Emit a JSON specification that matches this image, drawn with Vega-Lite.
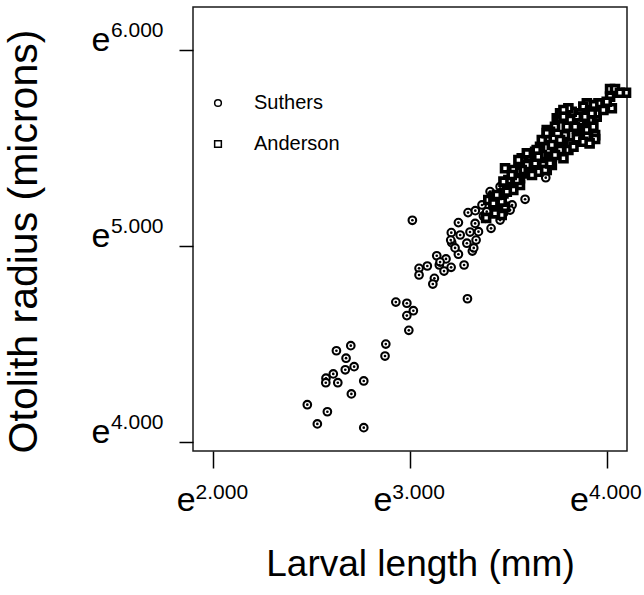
{
"$schema": "https://vega.github.io/schema/vega-lite/v6.json",
"width": 434, "height": 444,
"autosize": {"type": "none"},
"padding": {"left": 193, "top": 7, "right": 17, "bottom": 144},
"background": "white",
"config": {"view": {"stroke": "#1a1a1a", "strokeWidth": 1.5}, "font": "Liberation Sans"},
"datasets": {"otolith": [
{"study":"Suthers","lnLength":2.929,"lnRadius":4.713},{"study":"Suthers","lnLength":2.985,"lnRadius":4.707},{"study":"Suthers","lnLength":3.018,"lnRadius":4.669},{"study":"Suthers","lnLength":2.985,"lnRadius":4.644},{"study":"Suthers","lnLength":2.995,"lnRadius":4.569},{"study":"Suthers","lnLength":2.878,"lnRadius":4.499},{"study":"Suthers","lnLength":2.874,"lnRadius":4.438},{"study":"Suthers","lnLength":2.700,"lnRadius":4.491},{"study":"Suthers","lnLength":2.627,"lnRadius":4.465},{"study":"Suthers","lnLength":2.676,"lnRadius":4.427},{"study":"Suthers","lnLength":2.717,"lnRadius":4.384},{"study":"Suthers","lnLength":2.672,"lnRadius":4.368},{"study":"Suthers","lnLength":2.611,"lnRadius":4.347},{"study":"Suthers","lnLength":2.574,"lnRadius":4.325},{"study":"Suthers","lnLength":2.573,"lnRadius":4.302},{"study":"Suthers","lnLength":2.634,"lnRadius":4.302},{"study":"Suthers","lnLength":2.766,"lnRadius":4.311},{"study":"Suthers","lnLength":2.703,"lnRadius":4.245},{"study":"Suthers","lnLength":2.479,"lnRadius":4.190},{"study":"Suthers","lnLength":2.581,"lnRadius":4.154},{"study":"Suthers","lnLength":2.530,"lnRadius":4.092},{"study":"Suthers","lnLength":2.766,"lnRadius":4.073},{"study":"Suthers","lnLength":3.293,"lnRadius":4.730},{"study":"Suthers","lnLength":3.013,"lnRadius":5.130},{"study":"Suthers","lnLength":3.047,"lnRadius":4.885},{"study":"Suthers","lnLength":3.047,"lnRadius":4.851},{"study":"Suthers","lnLength":3.089,"lnRadius":4.897},{"study":"Suthers","lnLength":3.137,"lnRadius":4.949},{"study":"Suthers","lnLength":3.150,"lnRadius":4.902},{"study":"Suthers","lnLength":3.184,"lnRadius":4.933},{"study":"Suthers","lnLength":3.174,"lnRadius":4.871},{"study":"Suthers","lnLength":3.125,"lnRadius":4.834},{"study":"Suthers","lnLength":3.117,"lnRadius":4.805},{"study":"Suthers","lnLength":3.210,"lnRadius":4.890},{"study":"Suthers","lnLength":3.276,"lnRadius":4.902},{"study":"Suthers","lnLength":3.247,"lnRadius":4.957},{"study":"Suthers","lnLength":3.318,"lnRadius":4.973},{"study":"Suthers","lnLength":3.290,"lnRadius":5.013},{"study":"Suthers","lnLength":3.213,"lnRadius":5.016},{"study":"Suthers","lnLength":3.211,"lnRadius":5.067},{"study":"Suthers","lnLength":3.256,"lnRadius":5.055},{"study":"Suthers","lnLength":3.247,"lnRadius":5.118},{"study":"Suthers","lnLength":3.337,"lnRadius":5.029},{"study":"Suthers","lnLength":3.296,"lnRadius":5.169},{"study":"Suthers","lnLength":3.333,"lnRadius":5.179},{"study":"Suthers","lnLength":3.332,"lnRadius":5.114},{"study":"Suthers","lnLength":3.349,"lnRadius":5.072},{"study":"Suthers","lnLength":3.374,"lnRadius":5.152},{"study":"Suthers","lnLength":3.391,"lnRadius":5.174},{"study":"Suthers","lnLength":3.413,"lnRadius":5.089},{"study":"Suthers","lnLength":3.459,"lnRadius":5.131},{"study":"Suthers","lnLength":3.476,"lnRadius":5.165},{"study":"Suthers","lnLength":3.408,"lnRadius":5.276},{"study":"Suthers","lnLength":3.442,"lnRadius":5.225},{"study":"Suthers","lnLength":3.459,"lnRadius":5.301},{"study":"Suthers","lnLength":3.501,"lnRadius":5.310},{"study":"Suthers","lnLength":3.520,"lnRadius":5.208},{"study":"Suthers","lnLength":3.586,"lnRadius":5.237},{"study":"Suthers","lnLength":3.691,"lnRadius":5.347},{"study":"Suthers","lnLength":3.325,"lnRadius":4.989},{"study":"Suthers","lnLength":3.208,"lnRadius":5.029},{"study":"Suthers","lnLength":3.384,"lnRadius":5.140},{"study":"Suthers","lnLength":3.418,"lnRadius":5.249},{"study":"Suthers","lnLength":3.510,"lnRadius":5.182},{"study":"Suthers","lnLength":3.367,"lnRadius":5.208},{"study":"Suthers","lnLength":3.306,"lnRadius":5.070},{"study":"Suthers","lnLength":3.230,"lnRadius":4.989},{"study":"Suthers","lnLength":3.154,"lnRadius":4.917},
{"study":"Anderson","lnLength":4.018,"lnRadius":5.799},{"study":"Anderson","lnLength":4.043,"lnRadius":5.799},{"study":"Anderson","lnLength":4.099,"lnRadius":5.780},{"study":"Anderson","lnLength":4.068,"lnRadius":5.780},{"study":"Anderson","lnLength":4.018,"lnRadius":5.760},{"study":"Anderson","lnLength":4.027,"lnRadius":5.701},{"study":"Anderson","lnLength":4.001,"lnRadius":5.734},{"study":"Anderson","lnLength":3.959,"lnRadius":5.726},{"study":"Anderson","lnLength":3.933,"lnRadius":5.717},{"study":"Anderson","lnLength":3.900,"lnRadius":5.726},{"study":"Anderson","lnLength":3.882,"lnRadius":5.709},{"study":"Anderson","lnLength":3.916,"lnRadius":5.683},{"study":"Anderson","lnLength":3.950,"lnRadius":5.658},{"study":"Anderson","lnLength":3.865,"lnRadius":5.675},{"study":"Anderson","lnLength":3.849,"lnRadius":5.658},{"study":"Anderson","lnLength":3.823,"lnRadius":5.683},{"study":"Anderson","lnLength":3.815,"lnRadius":5.641},{"study":"Anderson","lnLength":3.865,"lnRadius":5.624},{"study":"Anderson","lnLength":3.900,"lnRadius":5.590},{"study":"Anderson","lnLength":3.942,"lnRadius":5.564},{"study":"Anderson","lnLength":3.942,"lnRadius":5.544},{"study":"Anderson","lnLength":3.900,"lnRadius":5.556},{"study":"Anderson","lnLength":3.849,"lnRadius":5.599},{"study":"Anderson","lnLength":3.798,"lnRadius":5.607},{"study":"Anderson","lnLength":3.789,"lnRadius":5.564},{"study":"Anderson","lnLength":3.738,"lnRadius":5.607},{"study":"Anderson","lnLength":3.713,"lnRadius":5.581},{"study":"Anderson","lnLength":3.764,"lnRadius":5.539},{"study":"Anderson","lnLength":3.815,"lnRadius":5.522},{"study":"Anderson","lnLength":3.849,"lnRadius":5.548},{"study":"Anderson","lnLength":3.882,"lnRadius":5.530},{"study":"Anderson","lnLength":3.696,"lnRadius":5.539},{"study":"Anderson","lnLength":3.662,"lnRadius":5.505},{"study":"Anderson","lnLength":3.722,"lnRadius":5.514},{"study":"Anderson","lnLength":3.764,"lnRadius":5.488},{"study":"Anderson","lnLength":3.806,"lnRadius":5.488},{"study":"Anderson","lnLength":3.781,"lnRadius":5.446},{"study":"Anderson","lnLength":3.722,"lnRadius":5.454},{"study":"Anderson","lnLength":3.671,"lnRadius":5.463},{"study":"Anderson","lnLength":3.637,"lnRadius":5.479},{"study":"Anderson","lnLength":3.611,"lnRadius":5.454},{"study":"Anderson","lnLength":3.569,"lnRadius":5.446},{"study":"Anderson","lnLength":3.595,"lnRadius":5.412},{"study":"Anderson","lnLength":3.637,"lnRadius":5.420},{"study":"Anderson","lnLength":3.679,"lnRadius":5.412},{"study":"Anderson","lnLength":3.722,"lnRadius":5.412},{"study":"Anderson","lnLength":3.696,"lnRadius":5.386},{"study":"Anderson","lnLength":3.653,"lnRadius":5.377},{"study":"Anderson","lnLength":3.611,"lnRadius":5.369},{"study":"Anderson","lnLength":3.569,"lnRadius":5.386},{"study":"Anderson","lnLength":3.544,"lnRadius":5.377},{"study":"Anderson","lnLength":3.560,"lnRadius":5.344},{"study":"Anderson","lnLength":3.526,"lnRadius":5.318},{"study":"Anderson","lnLength":3.560,"lnRadius":5.310},{"study":"Anderson","lnLength":3.526,"lnRadius":5.284},{"study":"Anderson","lnLength":3.484,"lnRadius":5.395},{"study":"Anderson","lnLength":3.476,"lnRadius":5.267},{"study":"Anderson","lnLength":3.450,"lnRadius":5.233},{"study":"Anderson","lnLength":3.425,"lnRadius":5.225},{"study":"Anderson","lnLength":3.459,"lnRadius":5.208},{"study":"Anderson","lnLength":3.484,"lnRadius":5.199},{"study":"Anderson","lnLength":3.467,"lnRadius":5.157},{"study":"Anderson","lnLength":3.388,"lnRadius":5.142},{"study":"Anderson","lnLength":3.423,"lnRadius":5.249},{"study":"Anderson","lnLength":3.747,"lnRadius":5.650},{"study":"Anderson","lnLength":3.794,"lnRadius":5.683},{"study":"Anderson","lnLength":3.806,"lnRadius":5.701},{"study":"Anderson","lnLength":3.764,"lnRadius":5.651},{"study":"Anderson","lnLength":3.914,"lnRadius":5.522},{"study":"Anderson","lnLength":3.764,"lnRadius":5.675},{"study":"Anderson","lnLength":3.696,"lnRadius":5.590},{"study":"Anderson","lnLength":3.671,"lnRadius":5.539},{"study":"Anderson","lnLength":3.645,"lnRadius":5.488},{"study":"Anderson","lnLength":3.595,"lnRadius":5.471},{"study":"Anderson","lnLength":3.526,"lnRadius":5.386},{"study":"Anderson","lnLength":3.544,"lnRadius":5.335},{"study":"Anderson","lnLength":3.501,"lnRadius":5.335},{"study":"Anderson","lnLength":3.493,"lnRadius":5.276},{"study":"Anderson","lnLength":3.467,"lnRadius":5.225},{"study":"Anderson","lnLength":3.433,"lnRadius":5.165},{"study":"Anderson","lnLength":3.399,"lnRadius":5.233},{"study":"Anderson","lnLength":3.621,"lnRadius":5.361},{"study":"Anderson","lnLength":3.653,"lnRadius":5.454},{"study":"Anderson","lnLength":3.832,"lnRadius":5.505},{"study":"Anderson","lnLength":3.916,"lnRadius":5.641},{"study":"Anderson","lnLength":3.950,"lnRadius":5.675},{"study":"Anderson","lnLength":3.984,"lnRadius":5.692},{"study":"Anderson","lnLength":3.781,"lnRadius":5.692},
{"study":"Anderson","lnLength":3.552,"lnRadius":5.437},{"study":"Anderson","lnLength":3.518,"lnRadius":5.361},{"study":"Anderson","lnLength":3.476,"lnRadius":5.327},{"study":"Anderson","lnLength":3.442,"lnRadius":5.259},{"study":"Anderson","lnLength":3.425,"lnRadius":5.216},{"study":"Anderson","lnLength":3.688,"lnRadius":5.386},{"study":"Anderson","lnLength":3.713,"lnRadius":5.420},{"study":"Anderson","lnLength":3.696,"lnRadius":5.574},{"study":"Anderson","lnLength":3.738,"lnRadius":5.463},{"study":"Anderson","lnLength":3.840,"lnRadius":5.607},{"study":"Anderson","lnLength":3.933,"lnRadius":5.607},{"study":"Anderson","lnLength":3.781,"lnRadius":5.658},{"study":"Anderson","lnLength":3.891,"lnRadius":5.658},{"study":"Anderson","lnLength":3.925,"lnRadius":5.675}
]},
"data": {"name": "otolith"},
"layer": [
{
"transform": [{"filter": "datum.study === 'Suthers'"}],
"mark": {"type": "point", "filled": true, "fill": "white", "stroke": "black", "strokeWidth": 2.1, "size": 58, "opacity": 1},
"encoding": {
"x": {"field": "lnLength", "type": "quantitative", "scale": {"domain": [1.898, 4.104], "nice": false, "zero": false},
"axis": {"orient": "bottom", "values": [2, 3, 4], "labelExpr": "'e'", "labelFontSize": 34, "labelAlign": "right", "labelOffset": -18, "labelBaseline": "alphabetic", "labelPadding": 42, "labelColor": "black", "labelFlush": false, "labelOverlap": false, "labelBound": false, "tickSize": 17, "tickColor": "black", "tickWidth": 1.5, "domain": false, "grid": false, "title": "Larval length (mm)", "titleFontSize": 37, "titleFontWeight": "normal", "titleColor": "black", "titleX": 227, "titleY": 124, "titleBaseline": "alphabetic", "titleAlign": "center"}},
"y": {"field": "lnRadius", "type": "quantitative", "scale": {"domain": [3.954, 6.217], "nice": false, "zero": false},
"axis": {"orient": "left", "values": [4, 5, 6], "labelExpr": "'e'", "labelFontSize": 34, "labelAlign": "right", "labelBaseline": "alphabetic", "labelOffset": 1, "labelPadding": 69, "labelColor": "black", "labelFlush": false, "labelOverlap": false, "labelBound": false, "tickSize": 14, "tickColor": "black", "tickWidth": 1.5, "domain": false, "grid": false, "title": "Otolith radius (microns)", "titleFontSize": 41, "titleFontWeight": "normal", "titleColor": "black", "titleAngle": -90, "titleX": -157, "titleY": 234, "titleBaseline": "alphabetic", "titleAlign": "center"}},
"shape": {"field": "study", "type": "nominal", "scale": {"domain": ["Suthers", "Anderson"], "range": ["circle", "square"]},
"legend": {"orient": "none", "legendX": 15, "legendY": 86, "title": null, "padding": 0, "labelFontSize": 20, "labelColor": "black", "labelOffset": 26, "rowPadding": 21, "symbolSize": 45,
"encode": {"symbols": {"update": {"stroke": {"value": "black"}, "fill": {"value": "white"}, "opacity": {"value": 1}, "strokeWidth": {"signal": "datum.value === 'Anderson' ? 3.2 : 1.7"}}}}}}
}
},
{
"transform": [{"filter": "datum.study === 'Suthers'"}],
"mark": {"type": "circle", "size": 7, "color": "black", "opacity": 1},
"encoding": {
"x": {"field": "lnLength", "type": "quantitative", "scale": {"domain": [1.898, 4.104], "nice": false, "zero": false}, "axis": null},
"y": {"field": "lnRadius", "type": "quantitative", "scale": {"domain": [3.954, 6.217], "nice": false, "zero": false}, "axis": null}
}
},
{
"transform": [{"filter": "datum.study === 'Anderson'"}],
"mark": {"type": "point", "filled": true, "fill": "white", "stroke": "black", "strokeWidth": 3.6, "size": 49, "opacity": 1},
"encoding": {
"x": {"field": "lnLength", "type": "quantitative", "scale": {"domain": [1.898, 4.104], "nice": false, "zero": false},
"axis": {"orient": "bottom", "values": [2, 3, 4], "labelExpr": "format(datum.value, '.3f')", "labelFontSize": 21, "labelAlign": "left", "labelOffset": -18, "labelBaseline": "alphabetic", "labelPadding": 47, "labelColor": "black", "labelFlush": false, "labelOverlap": false, "labelBound": false, "ticks": false, "tickSize": 0, "domain": false, "grid": false, "title": null}},
"y": {"field": "lnRadius", "type": "quantitative", "scale": {"domain": [3.954, 6.217], "nice": false, "zero": false},
"axis": {"orient": "left", "values": [4, 5, 6], "labelExpr": "format(datum.value, '.3f')", "labelFontSize": 21, "labelAlign": "right", "labelBaseline": "alphabetic", "labelOffset": -13, "labelPadding": 30, "labelColor": "black", "labelFlush": false, "labelOverlap": false, "labelBound": false, "ticks": false, "tickSize": 0, "domain": false, "grid": false, "title": null}},
"shape": {"field": "study", "type": "nominal", "scale": {"domain": ["Suthers", "Anderson"], "range": ["circle", "square"]},
"legend": {"orient": "none", "legendX": 15, "legendY": 86, "title": null, "padding": 0, "labelFontSize": 20, "labelColor": "black", "labelOffset": 26, "rowPadding": 21, "symbolSize": 45,
"encode": {"symbols": {"update": {"stroke": {"value": "black"}, "fill": {"value": "white"}, "opacity": {"value": 1}, "strokeWidth": {"signal": "datum.value === 'Anderson' ? 3.2 : 1.7"}}}}}}
}
}
],
"resolve": {"axis": {"x": "independent", "y": "independent"}}
}
